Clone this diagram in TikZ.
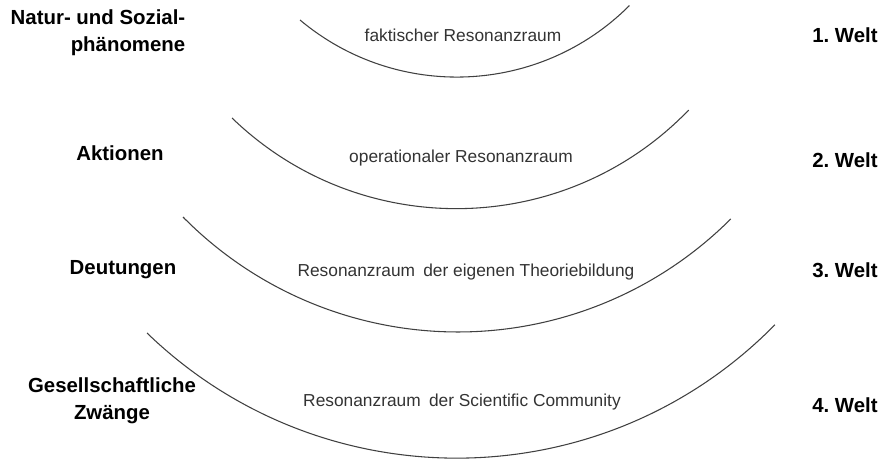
\documentclass[tikz,border=0pt]{standalone}
\usepackage{fontspec}
\setmainfont{Liberation Sans}
\usepackage{tikz}

\begin{document}
\begin{tikzpicture}[x=0.75pt, y=-0.75pt,
  bogen/.style={draw=black!75, line width=0.8pt},
  seite/.style={font=\bfseries\fontsize{15.3}{20}\selectfont, align=center},
  raum/.style={font=\fontsize{13}{15}\selectfont, text=black!80}]

\useasboundingbox (0,0) rectangle (887,459);

% linke Enden der Boegen
\coordinate (l1) at (300,20);
\coordinate (l2) at (232,118);
\coordinate (l3) at (183,217);
\coordinate (l4) at (147,333);

\draw[bogen] (l1) arc[start angle=130, end angle=45, radius=244];
\draw[bogen] (l2) arc[start angle=134, end angle=44, radius=323];
\draw[bogen] (l3) arc[start angle=135.4, end angle=45, radius=386];
\draw[bogen] (l4) arc[start angle=134, end angle=44.5, radius=446];

% Resonanzraeume
\node[raum] (r1) at (463,35) {faktischer Resonanzraum};
\node[raum] (r2) at (461,158) {operationaler Resonanzraum};
\node[raum] (r3) at (466,272) {Resonanzraum\hspace{0.2em} der eigenen Theoriebildung};
\node[raum] (r4) at (462,402) {Resonanzraum\hspace{0.2em} der Scientific Community};

% links
\node[seite, align=right] (n1) at (98,33) {Natur- und Sozial-\\phänomene};
\node[seite] (n2) at (120,153) {Aktionen};
\node[seite] (n3) at (123,270) {Deutungen};
\node[seite] (n4) at (112,401) {Gesellschaftliche\\Zwänge};

% rechts
\node[seite] (w1) at (845,35) {1.\ Welt};
\node[seite] (w2) at (845,160) {2.\ Welt};
\node[seite] (w3) at (845,270) {3.\ Welt};
\node[seite] (w4) at (845,405) {4.\ Welt};

\end{tikzpicture}
\end{document}
